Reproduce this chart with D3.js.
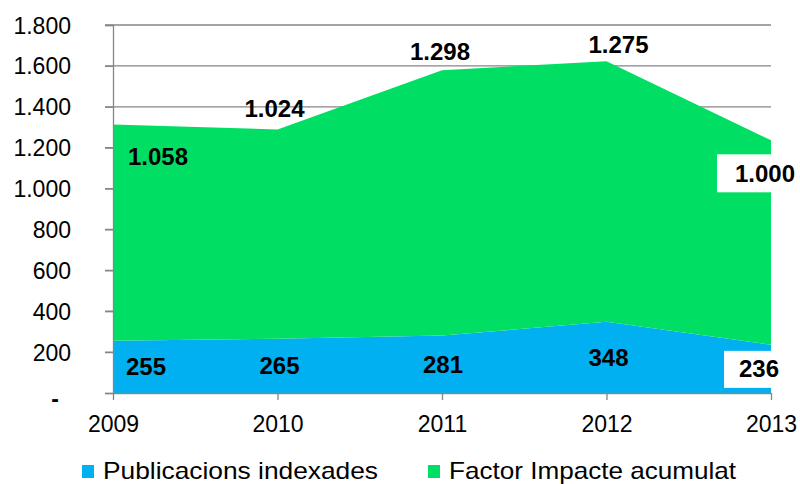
<!DOCTYPE html>
<html>
<head>
<meta charset="utf-8">
<script src="https://cdn.jsdelivr.net/npm/d3@7"></script>
<style>
  body { margin: 0; background: #fff; }
  svg { display: block; font-family: "Liberation Sans", Arial, sans-serif; }
</style>
</head>
<body>
<div id="chart"></div>
<script>
const years = ["2009", "2010", "2011", "2012", "2013"];
const publicacions = [255, 265, 281, 348, 236];
const factorImpacte = [1058, 1024, 1298, 1275, 1000];
const yTicks = [0, 200, 400, 600, 800, 1000, 1200, 1400, 1600, 1800];
const seriesNames = ["Publicacions indexades", "Factor Impacte acumulat"];
const seriesColors = ["#00b0f0", "#00df63"];

const svg = d3.select("#chart")
  .append("svg")
  .attr("width", 800)
  .attr("height", 484);

const fmt = d3.formatLocale({ decimal: ",", thousands: ".", grouping: [3], currency: ["", ""] }).format(",d");

const x = d3.scalePoint()
  .domain(years)
  .range([113, 771]);

const y = d3.scaleLinear()
  .domain([0, 1800])
  .range([393, 25]);

const rows = years.map((yr, i) => ({ year: yr, pub: publicacions[i], fi: factorImpacte[i] }));
const stack = d3.stack().keys(["pub", "fi"])(rows);

// gridlines
svg.append("g")
  .selectAll("line")
  .data(yTicks.filter(d => d > 0))
  .join("line")
  .attr("x1", 105)
  .attr("x2", 771)
  .attr("y1", d => y(d))
  .attr("y2", d => y(d))
  .attr("stroke", "#868686")
  .attr("stroke-width", 1.3);

// areas
const area = d3.area()
  .x(d => x(d.data.year))
  .y0(d => y(d[0]))
  .y1(d => y(d[1]));

svg.append("g")
  .selectAll("path")
  .data(stack)
  .join("path")
  .attr("d", area)
  .attr("fill", (d, i) => seriesColors[i]);

// axes
const yAxis = svg.append("g")
  .attr("transform", "translate(113,0)")
  .call(d3.axisLeft(y).tickValues(yTicks).tickSize(8).tickPadding(34)
    .tickFormat(d => d === 0 ? "-" : fmt(d)));
yAxis.select(".domain").attr("stroke", "#868686").attr("stroke-width", 1.3);
yAxis.selectAll(".tick line").attr("stroke", "#868686").attr("stroke-width", 1.3);
yAxis.selectAll(".tick text")
  .attr("fill", "#000")
  .style("font-size", "23px")
  .attr("dy", "0.35em");
yAxis.selectAll(".tick").filter(d => d === 0).select("text")
  .attr("dx", -12).attr("dy", "0.6em").style("font-weight", "bold");

const xAxis = svg.append("g")
  .attr("transform", "translate(0,393)")
  .call(d3.axisBottom(x).tickSize(7).tickPadding(16).tickSizeOuter(0));
xAxis.select(".domain").attr("stroke", "#868686").attr("stroke-width", 1.3);
xAxis.selectAll(".tick line").attr("stroke", "#868686").attr("stroke-width", 1.3);
xAxis.selectAll(".tick text")
  .attr("fill", "#000")
  .style("font-size", "23px");

// data labels
const pubOffset = [33, 2, 1, 2, -12];
const fiOffset = [[45, 32], [-3, -21], [-2, -19], [12, -17], [-6, 33]];

const labels = svg.append("g")
  .style("font-size", "24px")
  .style("font-weight", "bold");

// white boxes behind the last labels
labels.append("rect")
  .attr("x", x("2013") - 54)
  .attr("y", y(publicacions[4] + factorImpacte[4]) + fiOffset[4][1] - 19)
  .attr("width", 110)
  .attr("height", 38)
  .attr("fill", "#fff");
labels.append("rect")
  .attr("x", x("2013") - 47)
  .attr("y", y(publicacions[4] / 2) - 18)
  .attr("width", 110)
  .attr("height", 37)
  .attr("fill", "#fff");

labels.selectAll(".pub")
  .data(rows)
  .join("text")
  .attr("class", "pub")
  .attr("x", (d, i) => x(d.year) + pubOffset[i])
  .attr("y", d => y(d.pub / 2))
  .attr("dy", "0.35em")
  .attr("text-anchor", "middle")
  .text(d => fmt(d.pub));

labels.selectAll(".fi")
  .data(rows)
  .join("text")
  .attr("class", "fi")
  .attr("x", (d, i) => x(d.year) + fiOffset[i][0])
  .attr("y", (d, i) => y(d.pub + d.fi) + fiOffset[i][1])
  .attr("dy", "0.35em")
  .attr("text-anchor", "middle")
  .text(d => fmt(d.fi));

// legend
const legend = svg.append("g").style("font-size", "24px");
const legendX = [82, 428];
const legendW = [275, 287];
seriesNames.forEach((name, i) => {
  legend.append("rect")
    .attr("x", legendX[i])
    .attr("y", 465)
    .attr("width", 12)
    .attr("height", 13)
    .attr("fill", seriesColors[i]);
  legend.append("text")
    .attr("x", legendX[i] + 21)
    .attr("y", 479)
    .attr("textLength", legendW[i])
    .attr("lengthAdjust", "spacingAndGlyphs")
    .text(name);
});
</script>
</body>
</html>
